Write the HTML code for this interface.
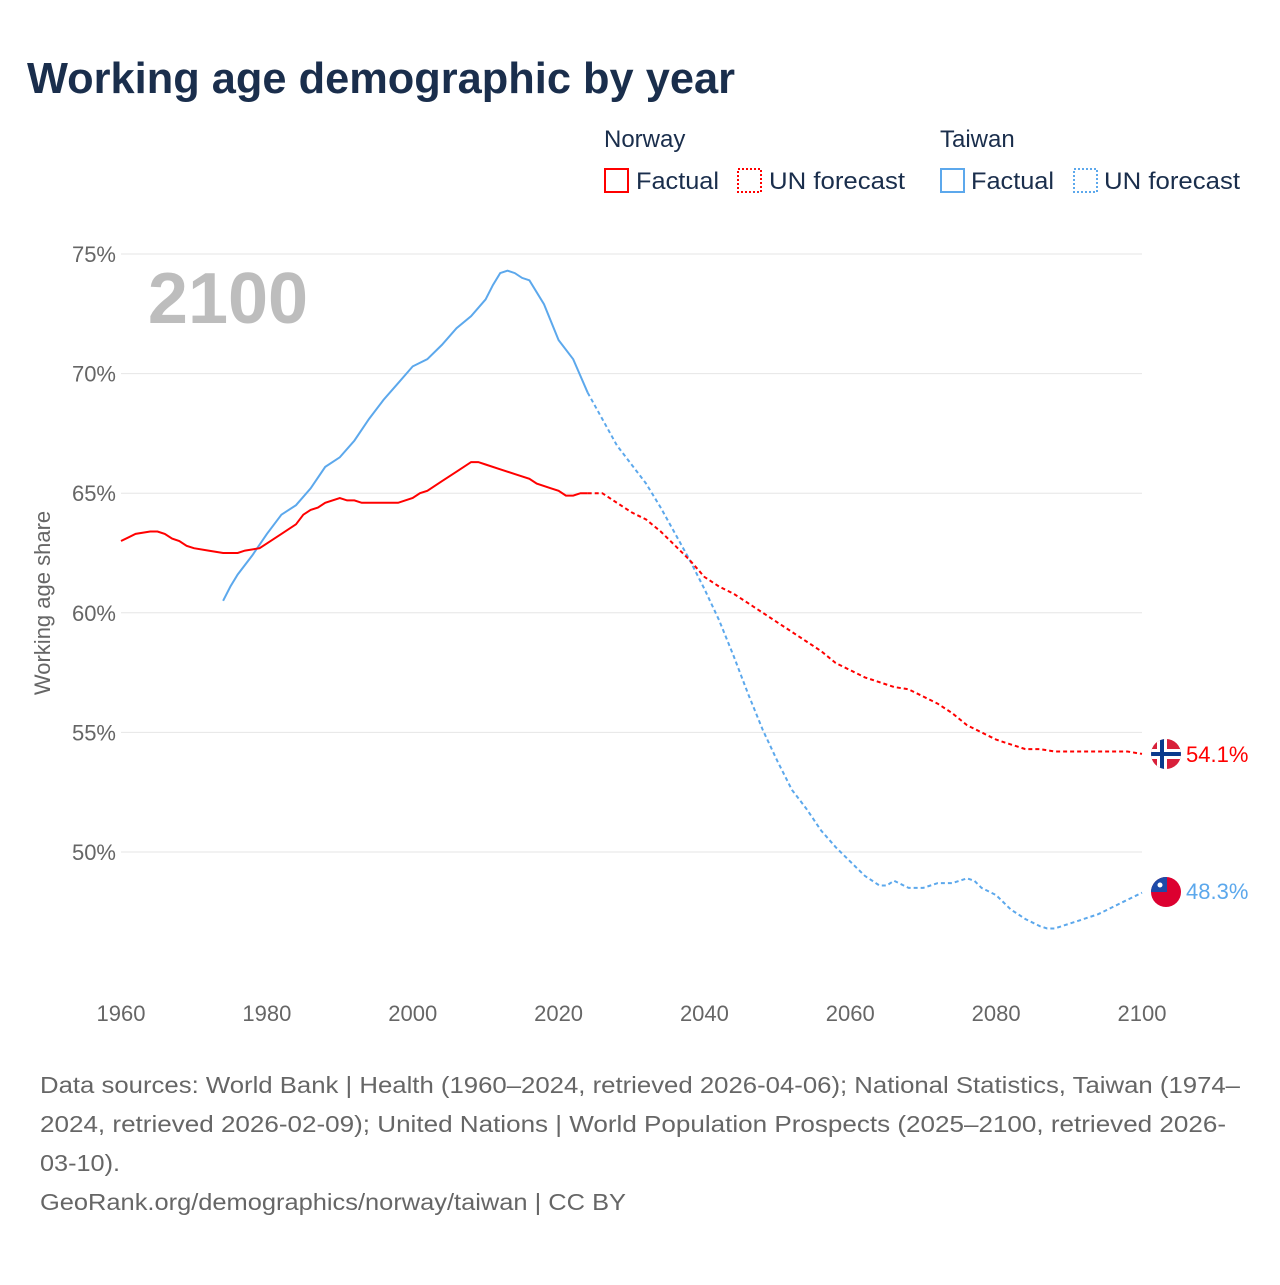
<!DOCTYPE html>
<html><head><meta charset="utf-8"><style>
body{margin:0;background:#fff;width:1280px;height:1280px;overflow:hidden;font-family:"Liberation Sans",sans-serif}
svg text{font-family:"Liberation Sans",sans-serif}
</style></head><body>
<svg width="1280" height="1280" viewBox="0 0 1280 1280">
<text x="27" y="93" font-size="44" font-weight="bold" fill="#1a2e4c" textLength="708" lengthAdjust="spacingAndGlyphs">Working age demographic by year</text>
<g font-size="24" fill="#1a2e4c">
<text x="604" y="147" fill="#1a2e4c">Norway</text>
<text x="940" y="147" fill="#1a2e4c">Taiwan</text>
<g><rect x="605" y="169" width="23" height="23" fill="none" stroke="#f00" stroke-width="2"/><text x="636" y="189" fill="#1a2e4c" textLength="83" lengthAdjust="spacingAndGlyphs">Factual</text></g>
<g><rect x="738" y="169" width="23" height="23" fill="none" stroke="#f00" stroke-width="2" stroke-dasharray="2,2"/><text x="769" y="189" fill="#1a2e4c" textLength="136" lengthAdjust="spacingAndGlyphs">UN forecast</text></g>
<g><rect x="941" y="169" width="23" height="23" fill="none" stroke="#5ca8ec" stroke-width="2"/><text x="971" y="189" fill="#1a2e4c" textLength="83" lengthAdjust="spacingAndGlyphs">Factual</text></g>
<g><rect x="1074" y="169" width="23" height="23" fill="none" stroke="#5ca8ec" stroke-width="2" stroke-dasharray="2,2"/><text x="1104" y="189" fill="#1a2e4c" textLength="136" lengthAdjust="spacingAndGlyphs">UN forecast</text></g>
</g>
<g id="grid"></g>
<g id="xaxis"></g>
<text x="228" y="323" font-size="72" font-weight="bold" fill="#bdbdbd" text-anchor="middle">2100</text>
<text transform="translate(50,603) rotate(-90)" font-size="22" fill="#666" text-anchor="middle">Working age share</text>
<g id="series"></g>
<g>
<clipPath id="cn"><circle cx="1166" cy="754" r="15"/></clipPath>
<g clip-path="url(#cn)"><rect x="1150" y="738" width="32" height="32" fill="#d8203a"/><rect x="1150" y="749" width="32" height="10" fill="#fff"/><rect x="1157" y="738" width="10" height="32" fill="#fff"/><rect x="1150" y="752" width="32" height="4" fill="#0a3a8c"/><rect x="1160" y="738" width="4" height="32" fill="#0a3a8c"/></g>
</g>
<g>
<clipPath id="ct"><circle cx="1166" cy="892" r="15"/></clipPath>
<g clip-path="url(#ct)"><rect x="1150" y="876" width="32" height="32" fill="#dc0030"/><rect x="1150" y="876" width="17" height="16" fill="#1d4aa8"/><circle cx="1160" cy="885" r="2.5" fill="#fff"/></g>
</g>
<text x="1186" y="762" font-size="22" fill="#f00">54.1%</text>
<text x="1186" y="899" font-size="22" fill="#5ca8ec">48.3%</text>
<g font-size="23" fill="#666">
<text x="40" y="1093" textLength="1200" lengthAdjust="spacingAndGlyphs">Data sources: World Bank | Health (1960–2024, retrieved 2026-04-06); National Statistics, Taiwan (1974–</text>
<text x="40" y="1132" textLength="1186" lengthAdjust="spacingAndGlyphs">2024, retrieved 2026-02-09); United Nations | World Population Prospects (2025–2100, retrieved 2026-</text>
<text x="40" y="1171" textLength="80" lengthAdjust="spacingAndGlyphs">03-10).</text>
<text x="40" y="1210" textLength="586" lengthAdjust="spacingAndGlyphs">GeoRank.org/demographics/norway/taiwan | CC BY</text>
</g>
</svg>
<script>
const yTicks=[50,55,60,65,70,75];
const xTicks=[1960,1980,2000,2020,2040,2060,2080,2100];
const norwayYears=[1960,1962,1964,1965,1966,1967,1968,1969,1970,1972,1974,1976,1977,1979,1980,1982,1984,1985,1986,1987,1988,1990,1991,1992,1993,1998,2000,2001,2002,2004,2006,2008,2009,2010,2012,2014,2016,2017,2019,2020,2021,2022,2023,2024];
const norwayValues=[63.0,63.3,63.4,63.4,63.3,63.1,63.0,62.8,62.7,62.6,62.5,62.5,62.6,62.7,62.9,63.3,63.7,64.1,64.3,64.4,64.6,64.8,64.7,64.7,64.6,64.6,64.8,65.0,65.1,65.5,65.9,66.3,66.3,66.2,66.0,65.8,65.6,65.4,65.2,65.1,64.9,64.9,65.0,65.0];
const norwayFcYears=[2024,2026,2028,2030,2032,2034,2036,2038,2040,2042,2044,2046,2048,2050,2052,2054,2056,2058,2060,2062,2064,2066,2068,2070,2072,2074,2076,2078,2080,2082,2084,2086,2088,2094,2098,2100];
const norwayFcValues=[65.0,65.0,64.6,64.2,63.9,63.4,62.8,62.2,61.5,61.1,60.8,60.4,60.0,59.6,59.2,58.8,58.4,57.9,57.6,57.3,57.1,56.9,56.8,56.5,56.2,55.8,55.3,55.0,54.7,54.5,54.3,54.3,54.2,54.2,54.2,54.1];
const taiwanYears=[1974,1975,1976,1978,1980,1982,1984,1986,1988,1990,1992,1994,1996,1998,2000,2002,2004,2006,2008,2010,2011,2012,2013,2014,2015,2016,2018,2020,2022,2024];
const taiwanValues=[60.5,61.1,61.6,62.4,63.3,64.1,64.5,65.2,66.1,66.5,67.2,68.1,68.9,69.6,70.3,70.6,71.2,71.9,72.4,73.1,73.7,74.2,74.3,74.2,74.0,73.9,72.9,71.4,70.6,69.2];
const taiwanFcYears=[2024,2026,2028,2030,2032,2034,2036,2038,2040,2042,2044,2046,2048,2050,2052,2054,2056,2058,2060,2062,2064,2065,2066,2068,2070,2072,2074,2076,2077,2078,2080,2082,2084,2086,2087,2088,2090,2092,2094,2096,2098,2100];
const taiwanFcValues=[69.2,68.1,67.0,66.2,65.4,64.4,63.3,62.2,61.0,59.7,58.2,56.6,55.1,53.8,52.6,51.8,50.9,50.2,49.6,49.0,48.6,48.6,48.8,48.5,48.5,48.7,48.7,48.9,48.8,48.5,48.2,47.6,47.2,46.9,46.8,46.8,47.0,47.2,47.4,47.7,48.0,48.3];
const NS='http://www.w3.org/2000/svg';
const xs=y=>121+(y-1960)*(1021/140);
const ys=v=>254+(75-v)*(598/25);
const grid=document.getElementById('grid');
yTicks.forEach(t=>{
 const l=document.createElementNS(NS,'line');
 l.setAttribute('x1',121);l.setAttribute('x2',1142);l.setAttribute('y1',ys(t));l.setAttribute('y2',ys(t));
 l.setAttribute('stroke','#e6e6e6');
 
 
 grid.appendChild(l);
 const tx=document.createElementNS(NS,'text');
 tx.setAttribute('x',116);tx.setAttribute('y',ys(t)+8);tx.setAttribute('text-anchor','end');
 tx.setAttribute('font-size','22');tx.setAttribute('fill','#666');
 tx.textContent=t+'%';
 
 
 grid.appendChild(tx);
});
const xa=document.getElementById('xaxis');
xTicks.forEach(t=>{
 const tx=document.createElementNS(NS,'text');
 tx.setAttribute('x',xs(t));tx.setAttribute('y',1021);tx.setAttribute('text-anchor','middle');
 tx.setAttribute('font-size','22');tx.setAttribute('fill','#666');
 tx.textContent=t;
 
 
 xa.appendChild(tx);
});
const sg=document.getElementById('series');
function line(yrs,vals,color,dash,name){
 const p=document.createElementNS(NS,'path');
 p.setAttribute('d',yrs.map((y,i)=>(i?'L':'M')+xs(y).toFixed(1)+','+ys(vals[i]).toFixed(1)).join(''));
 p.setAttribute('fill','none');p.setAttribute('stroke',color);p.setAttribute('stroke-width','2');
 if(dash)p.setAttribute('stroke-dasharray',dash);
 
 
 sg.appendChild(p);
}
line(taiwanYears,taiwanValues,'#5ca8ec',null,'taiwan-factual-line');
line(taiwanFcYears,taiwanFcValues,'#5ca8ec','4,3','taiwan-forecast-line');
line(norwayYears,norwayValues,'#f00',null,'norway-factual-line');
line(norwayFcYears,norwayFcValues,'#f00','4,3','norway-forecast-line');
</script>
</body></html>
